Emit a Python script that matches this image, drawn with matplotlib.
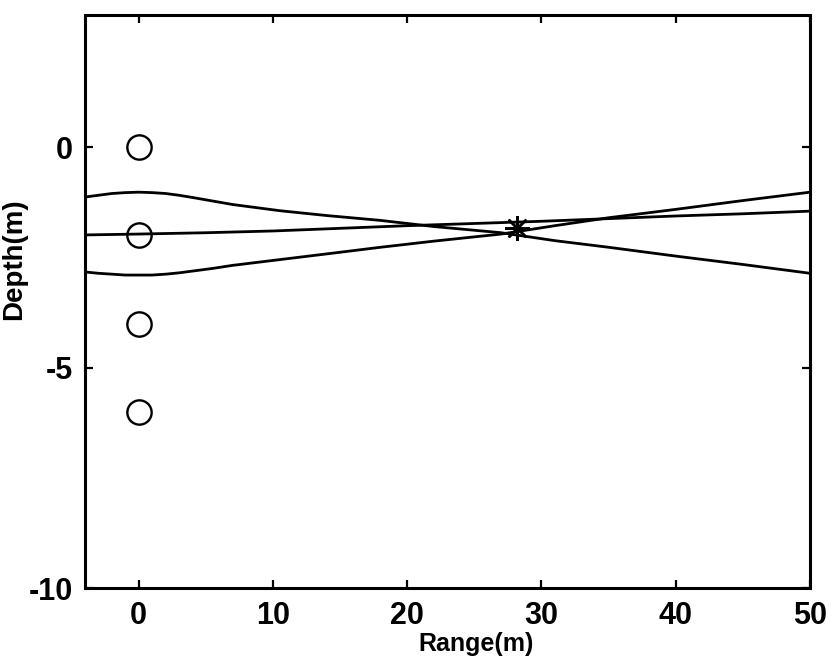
import matplotlib
matplotlib.use("Agg")
import matplotlib.pyplot as plt

plt.rcParams["font.family"] = ["Liberation Sans", "DejaVu Sans"]
plt.rcParams["font.weight"] = "bold"
plt.rcParams["axes.unicode_minus"] = False

# receivers (circles) at range 0
rx_range = [0, 0, 0, 0]
rx_depth = [0, -2, -4, -6]

# source position (asterisk)
src_range = [28.2]
src_depth = [-1.84]

# ray paths
ray_x = [-4, -3, -2, -1, 0, 1, 2, 3, 4, 5.5, 7, 10.5, 14, 18, 22, 27, 31, 35, 40, 45, 50]
ray_down = [-1.13, -1.09, -1.05, -1.03, -1.02, -1.03, -1.05, -1.09, -1.14, -1.22,
            -1.30, -1.44, -1.55, -1.66, -1.80, -1.94, -2.12, -2.27, -2.47, -2.66, -2.86]
ray_up = [-2.83, -2.86, -2.88, -2.90, -2.90, -2.90, -2.88, -2.85, -2.81, -2.75,
          -2.68, -2.55, -2.42, -2.27, -2.13, -1.97, -1.78, -1.60, -1.41, -1.21, -1.02]
mid_x = [-4, 0, 5, 10, 15, 20, 25, 30, 35, 40, 45, 50]
mid_y = [-1.99, -1.97, -1.94, -1.90, -1.84, -1.78, -1.73, -1.68, -1.62,
         -1.56, -1.51, -1.45]

fig = plt.figure(figsize=(8.36, 6.66), dpi=100)
ax = fig.add_axes([0.1017, 0.1171, 0.8672, 0.8604])

ax.plot(ray_x, ray_down, color="black", lw=2.0)
ax.plot(ray_x, ray_up, color="black", lw=2.0)
ax.plot(mid_x, mid_y, color="black", lw=2.0)
ax.plot(rx_range, rx_depth, "o", ms=17.5, mfc="none", mec="black", mew=1.7,
        clip_on=False)
ax.plot(src_range, src_depth, marker=(8, 2, 0), ms=18, color="black",
        mew=1.8, ls="none")

ax.set_xlim(-4, 50)
ax.set_ylim(-10, 3)
ax.set_xticks([0, 10, 20, 30, 40, 50])
ax.set_yticks([-10, -5, 0])

for s in ax.spines.values():
    s.set_linewidth(2.2)
ax.tick_params(direction="in", length=6, width=1.6, top=True, right=True,
               labelsize=22, pad=9)
for lab in ax.get_xticklabels() + ax.get_yticklabels():
    lab.set_fontweight("bold")

ax.set_xlabel("Range(m)", fontsize=18, fontweight="bold", labelpad=0)
ax.xaxis.set_label_coords(0.539, -0.076)
ax.set_ylabel("Depth(m)", fontsize=20, fontweight="bold")
ax.yaxis.set_label_coords(-0.08, 0.574)

fig.savefig("out.png", dpi=100)
